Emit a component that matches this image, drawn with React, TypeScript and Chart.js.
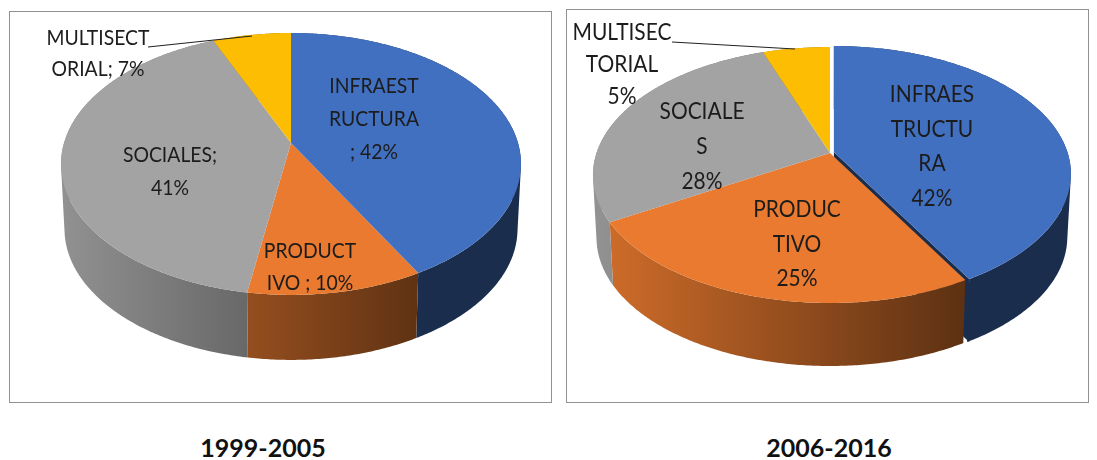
import React, { useEffect, useRef } from "react";
import { Chart, registerables } from "chart.js";

Chart.register(...registerables);

const categories = ["INFRAESTRUCTURA", "PRODUCTIVO", "SOCIALES", "MULTISECTORIAL"];
const colors = ["#4270c0", "#e97a2f", "#a3a3a3", "#fcbd02"];

const periodA = "1999-2005";
const valuesA = [42, 10.6, 41, 6.4];
const labelLinesA = [
  ["INFRAEST", "RUCTURA", "; 42%"],
  ["PRODUCT", "IVO ; 10%"],
  ["SOCIALES;", "41%"],
  ["MULTISECT", "ORIAL; 7%"],
];

const periodB = "2006-2016";
const valuesB = [41.8, 24.7, 28.1, 5.4];
const labelLinesB = [
  ["INFRAES", "TRUCTU", "RA", "42%"],
  ["PRODUC", "TIVO", "25%"],
  ["SOCIALE", "S", "28%"],
  ["MULTISEC", "TORIAL", "5%"],
];

function shade(hex: string, b: number) {
  const n = parseInt(hex.slice(1), 16);
  const r = Math.round(((n >> 16) & 255) * b);
  const g = Math.round(((n >> 8) & 255) * b);
  const bl = Math.round((n & 255) * b);
  return `rgb(${r},${g},${bl})`;
}

const pie3d = {
  id: "pie3d",
  beforeDatasetsDraw(chart: any, _a: any, o: any) {
    const ctx = chart.ctx as CanvasRenderingContext2D;
    const arcs = chart.getDatasetMeta(0).data as any[];
    const rim = (el: any, a: number) => {
      const u = Math.cos(a);
      const v = -Math.sin(a);
      const w = 1 + o.k * v;
      const off = el.options.offset || 0;
      const mid = (el.startAngle + el.endAngle) / 2;
      return [
        el.x + off * Math.cos(mid) + (o.rx * u) / w,
        el.y + off * Math.sin(mid) - (o.ry * v) / w,
      ];
    };
    const apex = (el: any) => {
      const off = el.options.offset || 0;
      const mid = (el.startAngle + el.endAngle) / 2;
      return [el.x + off * Math.cos(mid), el.y + off * Math.sin(mid)];
    };
    const angles = (el: any) => {
      const list: number[] = [];
      const steps = Math.max(2, Math.ceil((el.endAngle - el.startAngle) / 0.01));
      for (let i = 0; i <= steps; i++) list.push(el.startAngle + ((el.endAngle - el.startAngle) * i) / steps);
      return list;
    };
    const wallFill = (el: any) => {
      const cx = arcs[0].x;
      const g = ctx.createLinearGradient(cx - 237, 0, cx + 134, 0);
      g.addColorStop(0, shade(el.options.backgroundColor, o.light));
      g.addColorStop(1, shade(el.options.backgroundColor, 0.4));
      return g;
    };
    ctx.save();
    // cut faces of exploded slices
    arcs.forEach((el) => {
      if (!el.options.offset) return;
      const a = apex(el);
      const e = rim(el, el.endAngle);
      ctx.beginPath();
      ctx.moveTo(a[0], a[1]);
      ctx.lineTo(e[0], e[1]);
      ctx.lineTo(e[0], e[1] + o.depth);
      ctx.lineTo(a[0], a[1] + o.depth);
      ctx.closePath();
      ctx.fillStyle = shade(el.options.backgroundColor, 0.4);
      ctx.fill();
    });
    // outer walls: one path per slice, every swept quad wound the same way
    arcs.forEach((el) => {
      const list = angles(el);
      const low = (p: number[]) => [el.x + (p[0] - el.x) * o.wallScale, p[1] + o.depth];
      ctx.beginPath();
      for (let i = 0; i < list.length - 1; i++) {
        const p = rim(el, list[i]);
        const q = rim(el, list[i + 1]);
        let quad = [p, q, low(q), low(p)];
        let area = 0;
        quad.forEach((c, j) => {
          const n = quad[(j + 1) % 4];
          area += c[0] * n[1] - n[0] * c[1];
        });
        if (area < 0) quad = quad.slice().reverse();
        ctx.moveTo(quad[0][0], quad[0][1]);
        ctx.lineTo(quad[1][0], quad[1][1]);
        ctx.lineTo(quad[2][0], quad[2][1]);
        ctx.lineTo(quad[3][0], quad[3][1]);
        ctx.closePath();
      }
      ctx.fillStyle = wallFill(el);
      ctx.fill();
    });
    // top faces
    [1, 2, 3, 0].forEach((idx) => {
      const el = arcs[idx];
      const a = apex(el);
      ctx.beginPath();
      ctx.moveTo(a[0], a[1]);
      angles(el).forEach((t) => {
        const p = rim(el, t);
        ctx.lineTo(p[0], p[1]);
      });
      ctx.closePath();
      ctx.fillStyle = el.options.backgroundColor;
      ctx.fill();
    });
    // leader line
    ctx.strokeStyle = "#222222";
    ctx.lineWidth = 1.2;
    ctx.beginPath();
    ctx.moveTo(arcs[0].x + o.leader[0], arcs[0].y + o.leader[1]);
    ctx.lineTo(arcs[0].x + o.leader[2], arcs[0].y + o.leader[3]);
    ctx.stroke();
    // data labels
    ctx.font = `${o.fontSize}px Lato, "Open Sans", sans-serif`;
    ctx.fillStyle = "#1c1c1c";
    ctx.textAlign = "center";
    ctx.textBaseline = "middle";
    o.lines.forEach((lines: string[], i: number) => {
      const [dx, dy] = o.anchors[i];
      lines.forEach((line, j) => {
        ctx.save();
        ctx.translate(arcs[0].x + dx, arcs[0].y + dy + j * o.lineGap[i]);
        ctx.scale(o.stretch, 1);
        ctx.fillText(line, 0, 0);
        ctx.restore();
      });
    });
    ctx.restore();
    return false;
  },
};

function Panel(props: any) {
  const ref = useRef<HTMLCanvasElement | null>(null);
  useEffect(() => {
    const chart = new Chart(ref.current as HTMLCanvasElement, {
      type: "pie",
      plugins: [pie3d],
      data: {
        labels: categories,
        datasets: [
          {
            data: props.values,
            backgroundColor: colors,
            borderWidth: 0,
            offset: props.offsets,
          },
        ],
      },
      options: {
        responsive: false,
        animation: false,
        layout: { padding: props.padding },
        plugins: {
          legend: { display: false },
          tooltip: { enabled: false },
          pie3d: props.geometry,
        },
      },
    } as any);
    return () => chart.destroy();
  }, []);
  return (
    <>
      <div
        style={{
          position: "absolute",
          left: props.box[0],
          top: props.box[1],
          width: props.box[2],
          height: props.box[3],
          boxSizing: "border-box",
          border: "1px solid #929292",
          background: "#fff",
        }}
      >
        <canvas
          ref={ref}
          width={props.box[2] - 4}
          height={props.box[3] - 4}
          style={{ position: "absolute", left: 1, top: 1, display: "block" }}
        />
      </div>
      <div
        style={{
          position: "absolute",
          left: props.titleX - 100,
          width: 200,
          top: 432,
          textAlign: "center",
          font: 'bold 25px Lato, "Open Sans", sans-serif',
          color: "#111",
          lineHeight: "30px",
        }}
      >
        {props.title}
      </div>
    </>
  );
}

export default function App() {
  return (
    <div style={{ position: "fixed", left: 0, top: 0, width: 1097, height: 460, background: "#fff", overflow: "hidden" }}>
      <Panel
        title={periodA}
        titleX={263}
        values={valuesA}
        offsets={[0, 0, 0, 0]}
        box={[9, 11, 543, 392]}
        padding={{ left: 21, bottom: 128 }}
        geometry={{
          k: 0.16,
          rx: 227,
          ry: 127.6,
          depth: 65,
          wallScale: 0.985,
          light: 0.9,
          fontSize: 22,
          stretch: 0.88,
          lines: labelLinesA,
          anchors: [[83, -57], [19, 108], [-121, 12], [-193, -105]],
          lineGap: [33, 32, 33, 31],
          leader: [-143, -96, -39, -107],
        }}
      />
      <Panel
        title={periodB}
        titleX={829}
        values={valuesB}
        offsets={[4, 0, 0, 0]}
        box={[566, 9, 523, 394]}
        padding={{ left: 5, bottom: 106 }}
        geometry={{
          k: 0.172,
          rx: 233.5,
          ry: 124.2,
          depth: 63,
          wallScale: 0.985,
          light: 0.9,
          fontSize: 23,
          stretch: 0.91,
          lines: labelLinesB,
          anchors: [[102, -58], [-33, 57], [-128, -41], [-208, -120]],
          lineGap: [34.5, 34.5, 35, 32],
          leader: [-158, -111, -35, -104],
        }}
      />
    </div>
  );
}
